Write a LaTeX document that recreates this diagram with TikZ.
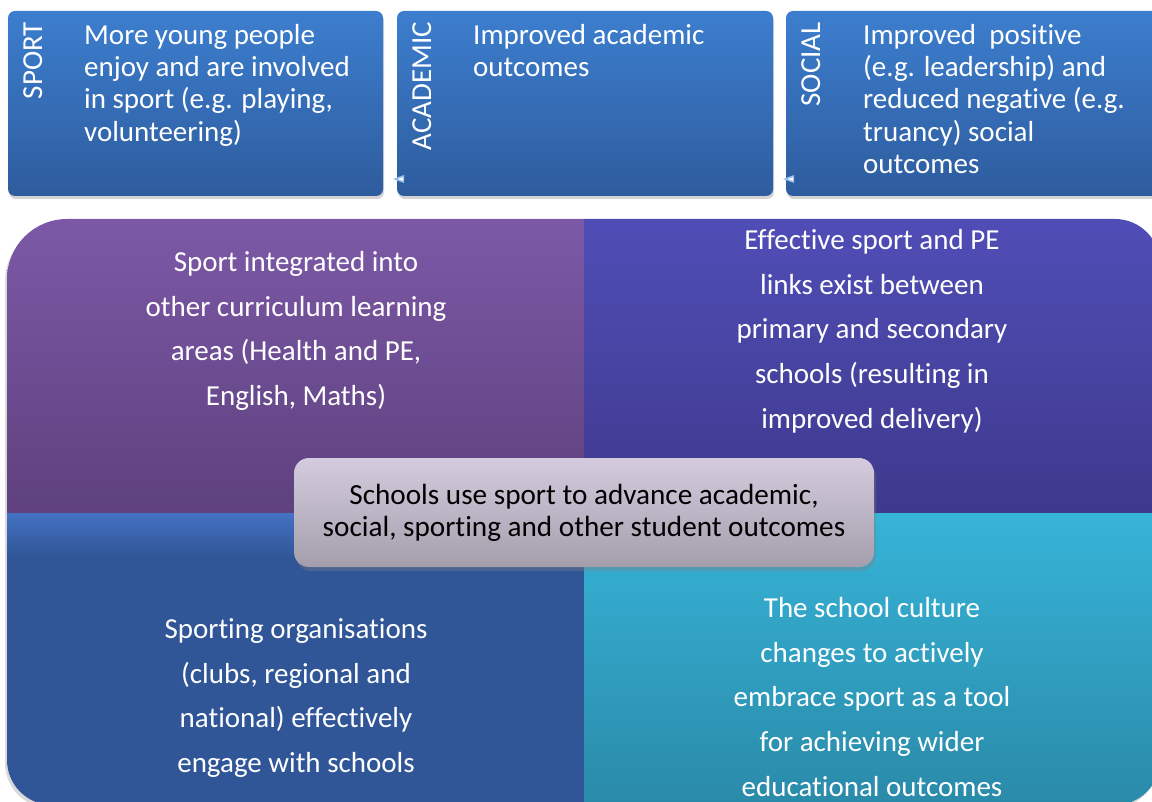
\documentclass[tikz,border=0pt]{standalone}
\usepackage{fontspec}
\setmainfont{Carlito}[Ligatures=NoCommon]
\usetikzlibrary{shadows}
\definecolor{boxtop}{RGB}{60,126,206}
\definecolor{boxbot}{RGB}{46,92,158}
\definecolor{tltop}{RGB}{124,89,167}
\definecolor{tlbot}{RGB}{94,65,126}
\definecolor{trtop}{RGB}{80,78,183}
\definecolor{trbot}{RGB}{62,57,141}
\definecolor{bltop}{RGB}{68,114,196}
\definecolor{blbot}{RGB}{48,86,152}
\definecolor{brtop}{RGB}{54,180,216}
\definecolor{brbot}{RGB}{42,137,168}
\definecolor{ctop}{RGB}{212,204,222}
\definecolor{cbot}{RGB}{164,158,172}
\definecolor{tripale}{RGB}{150,190,235}
\begin{document}
\begin{tikzpicture}[x=1pt,y=-1pt,
  outbox/.style={rounded corners=7pt, top color=boxtop, bottom color=boxbot, draw=none,
    drop shadow={shadow xshift=1pt, shadow yshift=-3pt, opacity=0.35},
    minimum height=185pt, inner sep=0pt},
  outlabel/.style={rotate=90, anchor=base east, inner sep=0pt, text=white, font=\fontsize{29}{32}\selectfont},
  outtext/.style={anchor=north west, inner sep=0pt, align=left, text=white, font=\fontsize{29}{32.3}\selectfont},
  quadtext/.style={inner sep=0pt, align=center, text=white, font=\fontsize{29}{44.7}\selectfont},
  corebox/.style={rounded corners=15pt, top color=ctop, bottom color=cbot, draw=none,
    drop shadow={shadow xshift=2pt, shadow yshift=-4pt, opacity=0.35},
    minimum width=580pt, minimum height=109pt, align=center, text=black,
    font=\fontsize{29.2}{32}\selectfont},
  tri/.style={fill=tripale},
  triin/.style={fill=white}
]
\useasboundingbox (0,0) rectangle (1152,802);
\clip (0,0) rectangle (1152,802);

% top outcome boxes
\node[outbox, minimum width=375pt] (b1) at (195.5,103.5) {};
\node[outbox, minimum width=376pt] (b2) at (585,103.5) {};
\node[outbox, minimum width=375pt] (b3) at (973.5,103.5) {};

\node[outlabel] (l1) at (42,22) {SPORT};
\node[outlabel] (l2) at (431,22) {ACADEMIC};
\node[outlabel] (l3) at (820,22) {SOCIAL};

\node[outtext] (t1) at (84,24) {More young people\\enjoy and are involved\\in sport (e.g. playing,\\volunteering)};
\node[outtext] (t2) at (473,24) {Improved academic\\outcomes};
\node[outtext] (t3) at (863,24) {Improved\ \ positive\\(e.g. leadership) and\\reduced negative (e.g.\\truancy) social\\outcomes};

% small markers
\fill[tri] (393,179) -- (404,175) -- (404,183) -- cycle;
\fill[triin] (397.5,179) -- (403,177.2) -- (403,180.8) -- cycle;
\fill[tri] (783,179) -- (794,175) -- (794,183) -- cycle;
\fill[triin] (787.5,179) -- (793,177.2) -- (793,180.8) -- cycle;

% big four-part shape
\path[fill=white, drop shadow={shadow xshift=-2pt, shadow yshift=-3pt, opacity=0.3}]
  (7,279) .. controls (7,245.9) and (33.9,219) .. (67,219) -- (1115,219)
  .. controls (1139.9,219) and (1160,239.1) .. (1160,264) -- (1160,760)
  .. controls (1160,784.9) and (1139.9,805) .. (1115,805) -- (52,805)
  .. controls (27.1,805) and (7,784.9) .. (7,760) -- cycle;
\begin{scope}
\clip
  (7,279) .. controls (7,245.9) and (33.9,219) .. (67,219) -- (1115,219)
  .. controls (1139.9,219) and (1160,239.1) .. (1160,264) -- (1160,760)
  .. controls (1160,784.9) and (1139.9,805) .. (1115,805) -- (52,805)
  .. controls (27.1,805) and (7,784.9) .. (7,760) -- cycle;
\shade[top color=tltop, bottom color=tlbot] (0,215) rectangle (584,513);
\shade[top color=trtop, bottom color=trbot] (584,215) rectangle (1170,513);
\fill[blbot] (0,513) rectangle (584,810);
\shade[top color=bltop, bottom color=blbot] (0,513) rectangle (584,556);
\shade[top color=brtop, bottom color=brbot] (584,513) rectangle (1170,810);
\end{scope}

\node[quadtext] (q1) at (296,331) {Sport integrated into\\other curriculum learning\\areas (Health and PE,\\English, Maths)};
\node[quadtext] (q2) at (872,331) {Effective sport and PE\\links exist between\\primary and secondary\\schools (resulting in\\improved delivery)};
\node[quadtext] (q3) at (296,698) {Sporting organisations\\(clubs, regional and\\national) effectively\\engage with schools};
\node[quadtext] (q4) at (872,697) {The school culture\\changes to actively\\embrace sport as a tool\\for achieving wider\\educational outcomes};

\node[corebox] (core) at (584,512.5) {Schools use sport to advance academic,\\social, sporting and other student outcomes};
\end{tikzpicture}
\end{document}
